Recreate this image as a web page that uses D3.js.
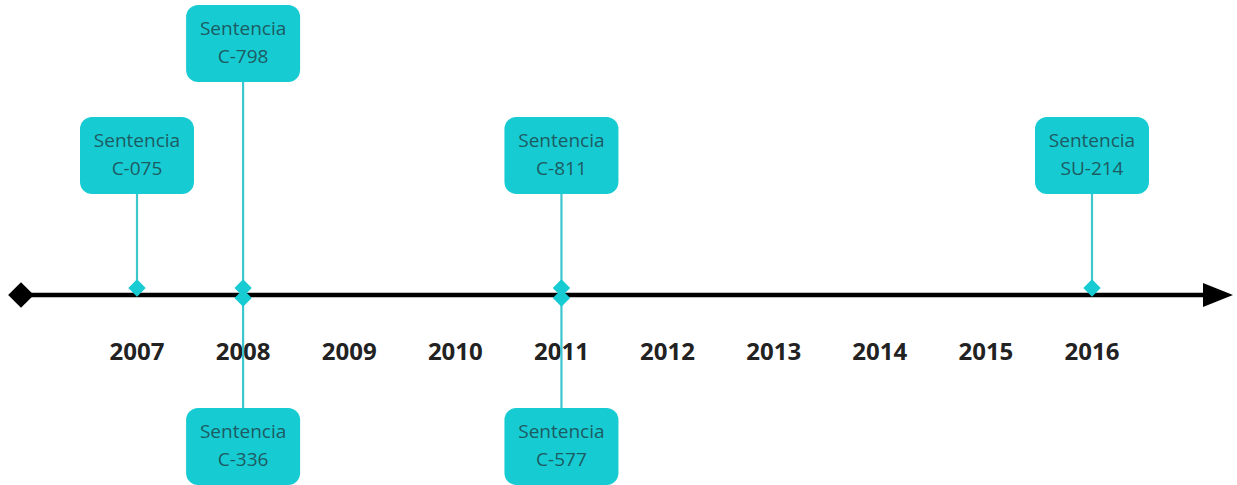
<!DOCTYPE html>
<html>
<head>
<meta charset="utf-8">
<script src="https://cdn.jsdelivr.net/npm/d3@7"></script>
<style>
  body { margin: 0; background: #fff; }
  svg { display: block; font-family: "Open Sans", "Noto Sans", sans-serif; }
</style>
</head>
<body>
<svg id="chart" width="1237" height="485"></svg>
<script>
// timeline years shown under the axis
var years = [2007, 2008, 2009, 2010, 2011, 2012, 2013, 2014, 2015, 2016];

// events: year, label lines, side of the axis
var eventYears = [2007, 2008, 2008, 2011, 2011, 2016];
var eventTitles = ["Sentencia", "Sentencia", "Sentencia", "Sentencia", "Sentencia", "Sentencia"];
var eventCodes = ["C-075", "C-798", "C-336", "C-811", "C-577", "SU-214"];
var eventSides = ["up", "up2", "down", "up", "down", "up"];

var svg = d3.select("#chart"),
    width = +svg.attr("width"),
    height = +svg.attr("height");

var axisY = 295;
var x = d3.scaleLinear().domain([2007, 2016]).range([137, 1092]);

var boxW = 114, boxH = 77;
// box vertical offsets per side
var boxTop = { up: 117, up2: 5, down: 408 };

var teal = "#17cbd3";
var tealLine = "#3cc6ce";

// axis line
svg.append("line")
    .attr("x1", 21).attr("x2", 1210)
    .attr("y1", axisY).attr("y2", axisY)
    .attr("stroke", "#000")
    .attr("stroke-width", 4.5);

// start diamond
svg.append("path")
    .attr("d", d3.symbol().type(d3.symbolSquare).size(330))
    .attr("transform", "translate(21," + axisY + ") rotate(45)")
    .attr("fill", "#000");

// arrow head
svg.append("path")
    .attr("d", "M1203," + (axisY - 12) + "L1233," + axisY + "L1203," + (axisY + 12) + "Z")
    .attr("fill", "#000");

// year labels
svg.selectAll(".year")
    .data(years)
    .enter().append("text")
    .attr("class", "year")
    .attr("x", d => x(d))
    .attr("y", 360)
    .attr("text-anchor", "middle")
    .attr("font-size", 24)
    .attr("font-weight", 700)
    .attr("fill", "#222")
    .text(d => d);

var events = eventYears.map((y, i) => ({
    year: y, title: eventTitles[i], code: eventCodes[i], side: eventSides[i]
}));

var ev = svg.selectAll(".event")
    .data(events)
    .enter().append("g")
    .attr("class", "event");

// connector lines
ev.append("line")
    .attr("x1", d => x(d.year)).attr("x2", d => x(d.year))
    .attr("y1", d => d.side === "down" ? axisY + 4 : boxTop[d.side] + boxH)
    .attr("y2", d => d.side === "down" ? boxTop.down : axisY - 8)
    .attr("stroke", tealLine)
    .attr("stroke-width", 2.2);

// boxes
ev.append("rect")
    .attr("x", d => x(d.year) - boxW / 2)
    .attr("y", d => boxTop[d.side])
    .attr("width", boxW)
    .attr("height", boxH)
    .attr("rx", 12)
    .attr("fill", teal);

ev.append("text")
    .attr("x", d => x(d.year))
    .attr("y", d => boxTop[d.side] + 30)
    .attr("text-anchor", "middle")
    .attr("font-size", 19)
    .attr("fill", "#1d5b62")
    .text(d => d.title);

ev.append("text")
    .attr("x", d => x(d.year))
    .attr("y", d => boxTop[d.side] + 58)
    .attr("text-anchor", "middle")
    .attr("font-size", 19)
    .attr("fill", "#1d5b62")
    .text(d => d.code);

// markers on the axis
ev.append("path")
    .attr("d", d3.symbol().type(d3.symbolSquare).size(150))
    .attr("transform", d => "translate(" + x(d.year) + "," + (d.side === "down" ? axisY + 3 : axisY - 7) + ") rotate(45)")
    .attr("fill", teal);
</script>
</body>
</html>
